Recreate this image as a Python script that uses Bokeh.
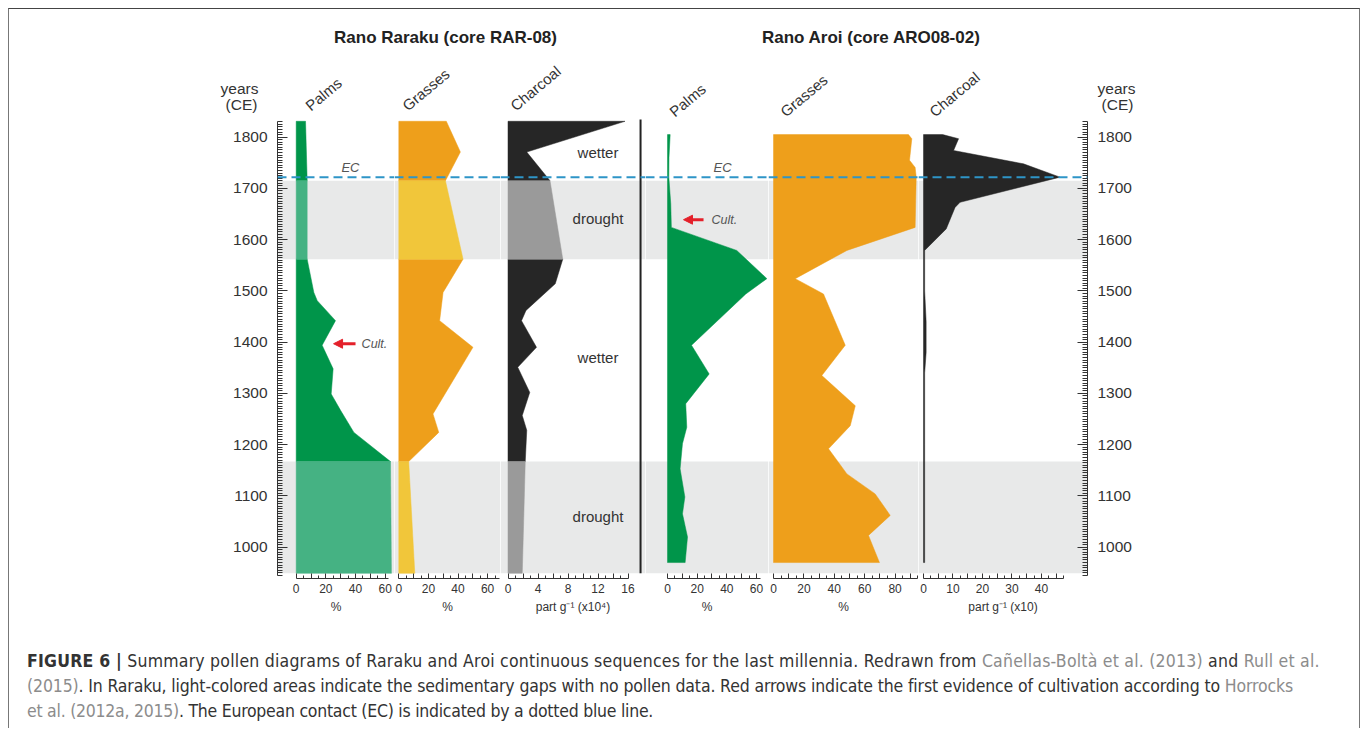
import numpy as np
from bokeh.plotting import figure
from bokeh.layouts import row, column
from bokeh.models import (Range1d, LinearAxis, FixedTicker, BoxAnnotation, Span,
                          Arrow, NormalHead, Div)
from bokeh.embed import file_html
from bokeh.resources import INLINE
from bokeh.core.properties import value

# ---------------- data ----------------
year_ticks = [1000, 1100, 1200, 1300, 1400, 1500, 1600, 1700, 1800]
ec_year = 1722
gap_intervals = [(1562, 1715), (949, 1167)]          # light-coloured gaps / drought
raraku_dark_intervals = [(1715, 1831), (1167, 1562)]

rar_palms_years = [1831, 1715, 1562, 1497, 1481, 1442, 1394, 1348, 1299, 1267, 1224, 1167, 949]
rar_palms_pct = [6.3, 7.4, 7.4, 11.9, 14.2, 26.5, 17.5, 24.9, 23.6, 29.9, 38.9, 63.6, 64.2]

rar_grass_years = [1831, 1771, 1715, 1562, 1497, 1442, 1390, 1260, 1224, 1167, 949]
rar_grass_pct = [32.1, 41.6, 31.5, 43.4, 29.9, 27.6, 50.1, 23.1, 27.0, 6.7, 10.8]

rar_char_years = [1831, 1771, 1715, 1562, 1514, 1462, 1442, 1390, 1351, 1302, 1257, 1228, 1167, 949]
rar_char_vals = [15.6, 2.5, 5.6, 7.3, 6.3, 2.4, 1.8, 3.8, 1.3, 2.9, 1.9, 2.5, 2.3, 1.9]

aro_palms_years = [1805, 1760, 1722, 1670, 1624, 1579, 1524, 1494, 1394, 1338, 1280, 1234, 1202, 1153, 1098, 1065, 1020, 970]
aro_palms_pct = [1.8, 1.0, 0.9, 2.2, 2.6, 46.7, 67.0, 52.8, 16.2, 28.1, 12.3, 13.0, 10.1, 8.5, 11.7, 10.1, 13.5, 11.9]

aro_grass_years = [1805, 1797, 1755, 1741, 1722, 1624, 1579, 1524, 1494, 1394, 1335, 1276, 1237, 1192, 1143, 1104, 1062, 1023, 970]
aro_grass_pct = [88.8, 91.0, 89.5, 93.2, 93.9, 93.2, 48.3, 14.3, 32.9, 47.2, 31.8, 53.8, 50.5, 36.2, 48.3, 66.9, 76.8, 62.5, 69.7]

aro_char_years = [1805, 1797, 1774, 1748, 1722, 1673, 1663, 1621, 1579, 1500, 1440, 1380, 1340, 1200, 970]
aro_char_vals = [6.5, 11.9, 10.2, 33.9, 46.3, 12.4, 10.7, 7.7, 0.4, 0.4, 0.9, 0.9, 0.4, 0.4, 0.4]

climate_labels = ["wetter", "drought", "wetter", "drought"]
climate_years = [1770, 1641, 1370, 1060]
cult_years = [1397, 1639]       # Raraku, Aroi

site_titles = ["Rano Raraku (core RAR-08)", "Rano Aroi (core ARO08-02)"]
proxy_names = ["Palms", "Grasses", "Charcoal", "Palms", "Grasses", "Charcoal"]

# ---------------- style ----------------
FONT = "Liberation Sans"
TXT = "#333333"
AX = "#333333"
BAND = "#e8e9e9"
EC_BLUE = "#2e95c7"
RED = "#e4202a"
GREEN, GREEN_L = "#00954a", "#45b283"
ORANGE, YELLOW = "#ee9f1b", "#f1c63a"
BLACK, GREY = "#262626", "#9a9a9a"

W = 1340
HDR_H = 110
H = 504
Y0, Y1 = 938.9, 1834.5


def poly(years, vals, lo, hi):
    ys = [y for y in years if lo <= y <= hi]
    vs = [v for y, v in zip(years, vals) if lo <= y <= hi]
    return [0] + vs + [0], [ys[0]] + ys + [ys[-1]]


def panel(width, x0, x1, left=0, right=0):
    p = figure(width=width, height=H, x_range=Range1d(x0, x1), y_range=Range1d(Y0, Y1),
               x_axis_location=None, y_axis_location=None, toolbar_location=None,
               output_backend="svg", min_border_left=left, min_border_right=right,
               min_border_top=0, min_border_bottom=45, outline_line_color=None,
               background_fill_color="white", border_fill_color="white")
    p.xgrid.visible = False
    p.ygrid.visible = False
    for lo, hi in gap_intervals:
        p.add_layout(BoxAnnotation(bottom=lo, top=hi, fill_color=BAND, fill_alpha=1,
                                   line_alpha=0, level="underlay"))
    p.add_layout(Span(location=ec_year, dimension="width", line_color=EC_BLUE,
                      line_width=2, line_dash="9 5", level="overlay"))
    return p


def bottom_axis(p, majors, minors, labeled, bound, label):
    overrides = {t: "" for t in majors if t not in labeled}
    ax = LinearAxis(ticker=FixedTicker(ticks=majors, minor_ticks=minors), bounds=(0, bound),
                    axis_label=label, major_label_overrides=overrides,
                    major_tick_in=5, major_tick_out=0, minor_tick_in=3, minor_tick_out=0,
                    axis_line_color=AX, major_tick_line_color=AX, minor_tick_line_color=AX,
                    major_label_standoff=5, axis_label_standoff=4,
                    major_label_text_font=FONT, major_label_text_font_size="12px",
                    major_label_text_color=TXT,
                    axis_label_text_font=FONT, axis_label_text_font_size="12px",
                    axis_label_text_font_style="normal", axis_label_text_color=TXT)
    p.add_layout(ax, "below")


def year_axis(p, side):
    ax = LinearAxis(ticker=FixedTicker(ticks=year_ticks, minor_ticks=list(range(945, 1831, 5))),
                    bounds=(945, 1830), major_tick_in=10, major_tick_out=0,
                    minor_tick_in=5, minor_tick_out=0, major_label_standoff=10,
                    axis_line_color=AX, major_tick_line_color=AX, minor_tick_line_color=AX,
                    major_label_text_font=FONT, major_label_text_font_size="15.5px",
                    major_label_text_color=TXT)
    p.add_layout(ax, side)


def italic_note(p, x, y, t, align, size):
    p.text(x=[x], y=[y], text=[t], text_font=value(FONT), text_font_style="italic",
           text_font_size=size, text_color="#555555", text_align=align, text_baseline="middle")


def cult_arrow(p, x_tail, x_head, y):
    p.add_layout(Arrow(end=NormalHead(size=9, fill_color=RED, line_color=RED),
                       x_start=x_tail, y_start=y, x_end=x_head, y_end=y,
                       line_color=RED, line_width=3))


# ---------- Rano Raraku ----------
p1 = panel(385, -12.61, 66.28, left=268)
for lo, hi in raraku_dark_intervals:
    xs, ys = poly(rar_palms_years, rar_palms_pct, lo, hi)
    p1.patch(xs, ys, fill_color=GREEN, line_color=GREEN, line_width=0.5)
for lo, hi in gap_intervals:
    xs, ys = poly(rar_palms_years, rar_palms_pct, lo, hi)
    p1.patch(xs, ys, fill_color=GREEN_L, line_color=GREEN_L, line_width=0.5)
year_axis(p1, "left")
bottom_axis(p1, list(range(0, 61, 10)), [5, 15, 25, 35, 45, 55], [0, 20, 40, 60], 62.5, "%")
italic_note(p1, 36.6, 1741, "EC", "center", "13px")
cult_arrow(p1, 40, 25.2, cult_years[0])
italic_note(p1, 44.1, cult_years[0], "Cult.", "left", "12.5px")

p2 = panel(106, -2.9, 68.7)
for lo, hi in raraku_dark_intervals:
    xs, ys = poly(rar_grass_years, rar_grass_pct, lo, hi)
    p2.patch(xs, ys, fill_color=ORANGE, line_color=ORANGE, line_width=0.5)
for lo, hi in gap_intervals:
    xs, ys = poly(rar_grass_years, rar_grass_pct, lo, hi)
    p2.patch(xs, ys, fill_color=YELLOW, line_color=YELLOW, line_width=0.5)
bottom_axis(p2, list(range(0, 61, 10)), [5, 15, 25, 35, 45, 55, 65], [0, 20, 40, 60], 68, "%")

p3 = panel(145, -1.0, 18.33)
for lo, hi in raraku_dark_intervals:
    xs, ys = poly(rar_char_years, rar_char_vals, lo, hi)
    p3.patch(xs, ys, fill_color=BLACK, line_color=BLACK, line_width=0.5)
for lo, hi in gap_intervals:
    xs, ys = poly(rar_char_years, rar_char_vals, lo, hi)
    p3.patch(xs, ys, fill_color=GREY, line_color=GREY, line_width=0.5)
bottom_axis(p3, list(range(0, 17, 2)), list(range(1, 16, 2)), [0, 4, 8, 12, 16], 16,
            "part g\u207b\u00b9 (x10\u2074)")
p3.text(x=[12.0] * 4, y=climate_years, text=climate_labels, text_font=value(FONT),
        text_font_size="15px", text_color=TXT, text_align="center", text_baseline="middle")
sep_x = 17.67
p3.segment(x0=[sep_x], y0=[949], x1=[sep_x], y1=[1851], line_color="#222222", line_width=2)

# ---------- Rano Aroi ----------
p4 = panel(123, -14.83, 68.1)
xs, ys = poly(aro_palms_years, aro_palms_pct, 0, 3000)
p4.patch(xs, ys, fill_color=GREEN, line_color=GREEN, line_width=0.5)
bottom_axis(p4, list(range(0, 61, 10)), [5, 15, 25, 35, 45, 55], [0, 20, 40, 60], 62.5, "%")
italic_note(p4, 37.1, 1741, "EC", "center", "13px")
cult_arrow(p4, 24.3, 10.8, cult_years[1])
italic_note(p4, 29.7, cult_years[1], "Cult.", "left", "12.5px")

p5 = panel(150, -3.29, 95.4)
xs, ys = poly(aro_grass_years, aro_grass_pct, 0, 3000)
p5.patch(xs, ys, fill_color=ORANGE, line_color=ORANGE, line_width=0.5)
bottom_axis(p5, list(range(0, 91, 10)), [5, 15, 25, 35, 45, 55, 65, 75, 85, 95],
            [0, 20, 40, 60, 80], 95, "%")

p6 = panel(W - 909, -1.69, 55.6, right=262)
xs, ys = poly(aro_char_years, aro_char_vals, 0, 3000)
p6.patch(xs, ys, fill_color=BLACK, line_color=BLACK, line_width=0.5)
bottom_axis(p6, list(range(0, 46, 5)), [2.5 + 5 * i for i in range(10)], [0, 10, 20, 30, 40],
            47.5, "part g\u207b\u00b9 (x10)")
year_axis(p6, "right")

# ---------- header (page-pixel coordinates, y measured downward as negative) ----------
hdr = figure(width=W, height=HDR_H, x_range=Range1d(9, 9 + W), y_range=Range1d(-9 - HDR_H, -9),
             x_axis_location=None, y_axis_location=None, toolbar_location=None,
             output_backend="svg", min_border=0, outline_line_color=None)
hdr.xgrid.visible = False
hdr.ygrid.visible = False
hdr.text(x=[445, 871], y=[-37, -37], text=site_titles, text_font=value(FONT),
         text_font_size="17px", text_font_style="bold", text_color="#222222",
         text_align="center", text_baseline="middle")
hdr.text(x=[239, 241, 1116, 1117], y=[-88, -104, -88, -104],
         text=["years", "(CE)", "years", "(CE)"], text_font=value(FONT),
         text_font_size="15.5px", text_color=TXT, text_align="center", text_baseline="middle")
hdr.text(x=[307, 404, 512, 671, 782, 931], y=[-107, -107, -107, -113, -113, -113],
         text=proxy_names, angle=np.deg2rad(40), text_font=value(FONT),
         text_font_size="15px", text_color=TXT, text_align="left", text_baseline="alphabetic")

# ---------- caption ----------
REF = "color:#8c8c8c"
cap_html = (
    '<div style="font-family:\'DejaVu Sans Condensed\',\'Liberation Sans Narrow\',sans-serif;'
    'font-size:17.5px;line-height:25px;color:#333;padding:21px 0 0 13px;white-space:nowrap;">'
    '<span style="letter-spacing:0.22px">'
    '<b>FIGURE 6 |</b> Summary pollen diagrams of Raraku and Aroi continuous sequences for the last '
    'millennia. Redrawn from <span style="' + REF + '">Cañellas-Boltà et al. (2013)</span> and '
    '<span style="' + REF + '">Rull et al.</span></span><br>'
    '<span style="letter-spacing:-0.14px">'
    '<span style="' + REF + '">(2015)</span>. In Raraku, light-colored areas indicate the sedimentary '
    'gaps with no pollen data. Red arrows indicate the first evidence of cultivation according to '
    '<span style="' + REF + '">Horrocks</span></span><br>'
    '<span style="letter-spacing:-0.25px">'
    '<span style="' + REF + '">et al. (2012a, 2015)</span>. The European contact (EC) is indicated by '
    'a dotted blue line.</span></div>'
)
cap = Div(text=cap_html, width=W, height=95)

layout = column(hdr, row(p1, p2, p3, p4, p5, p6), cap,
                styles={"border-top": "1px solid #444444", "border-left": "1px solid #777777",
                        "border-right": "1px solid #777777", "margin": "8px 0 0 8px"})

with open("out.html", "w", encoding="utf-8") as f:
    f.write(file_html(layout, INLINE))
